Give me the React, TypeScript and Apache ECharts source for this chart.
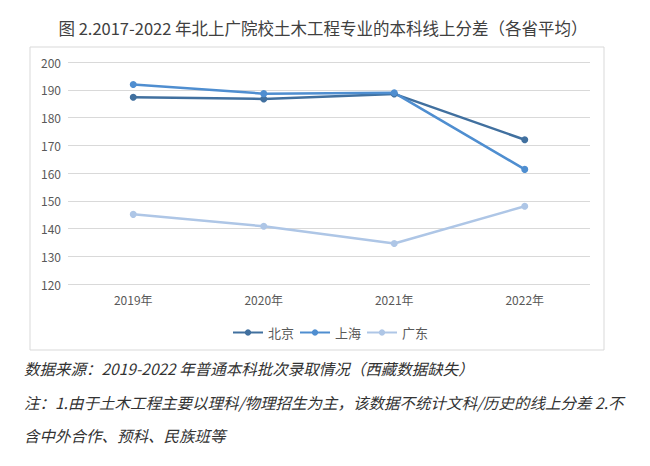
import React, { useEffect, useRef } from "react";
import * as echarts from "echarts";

const categories = ["2019年", "2020年", "2021年", "2022年"];
const beijing = [187.3, 186.7, 188.5, 172.0];
const shanghai = [191.9, 188.6, 188.9, 161.3];
const guangdong = [145.1, 140.8, 134.6, 148.0];
const seriesNames = ["北京", "上海", "广东"];
const titleText = "图 2.2017-2022 年北上广院校土木工程专业的本科线上分差（各省平均）";
const footLines = [
  "数据来源：2019-2022 年普通本科批次录取情况（西藏数据缺失）",
  "注：1.由于土木工程主要以理科/物理招生为主，该数据不统计文科/历史的线上分差 2.不",
  "含中外合作、预科、民族班等",
];

const colors = ["#41709f", "#4f8ed0", "#aec6e6"];

export default function App() {
  const ref = useRef<HTMLDivElement>(null);
  useEffect(() => {
    if (!ref.current) return;
    const chart = echarts.init(ref.current, null, { renderer: "svg" });
    const font = "'Noto Sans CJK SC', 'Noto Sans', sans-serif";
    const data = [beijing, shanghai, guangdong];
    chart.setOption({
      animation: false,
      backgroundColor: "#ffffff",
      textStyle: { fontFamily: font },
      graphic: [
        {
          type: "rect",
          z: -10,
          shape: { x: 30, y: 47, width: 574, height: 303 },
          style: { fill: "#ffffff", stroke: "#d9d9d9", lineWidth: 1 },
        },
        {
          type: "text",
          x: 323,
          y: 28,
          style: {
            text: titleText,
            fill: "#404040",
            font: `16.5px ${font}`,
            textAlign: "center",
            textVerticalAlign: "middle",
          },
        },
        ...footLines.map((t, i) => ({
          type: "text",
          x: 24,
          y: [368, 402, 435][i],
          style: {
            text: t,
            fill: "#333333",
            font: `italic 15.5px ${font}`,
            textAlign: "left",
            textVerticalAlign: "middle",
          },
        })),
      ],
      grid: { left: 68, right: 60, top: 62, bottom: 182 },
      legend: {
        data: seriesNames,
        left: 227,
        top: 321,
        itemWidth: 30,
        itemHeight: 8,
        itemGap: 5,
        textStyle: { color: "#595959", fontSize: 13, fontFamily: font },
      },
      xAxis: {
        type: "category",
        data: categories,
        boundaryGap: true,
        axisLine: { show: false },
        axisTick: { show: false },
        axisLabel: { color: "#595959", fontSize: 12, margin: 9 },
      },
      yAxis: {
        type: "value",
        min: 120,
        max: 200,
        interval: 10,
        axisLine: { show: false },
        axisTick: { show: false },
        axisLabel: { color: "#595959", fontSize: 12, margin: 7 },
        splitLine: { lineStyle: { color: "#d9d9d9", width: 1 } },
      },
      series: seriesNames.map((n, i) => ({
        name: n,
        type: "line",
        data: data[i],
        symbol: "circle",
        symbolSize: 7,
        lineStyle: { width: 2.5, color: colors[i] },
        itemStyle: { color: colors[i] },
      })),
    });
    return () => chart.dispose();
  }, []);
  return (
    <div
      ref={ref}
      style={{ position: "fixed", left: 0, top: 0, width: 650, height: 466 }}
    />
  );
}
